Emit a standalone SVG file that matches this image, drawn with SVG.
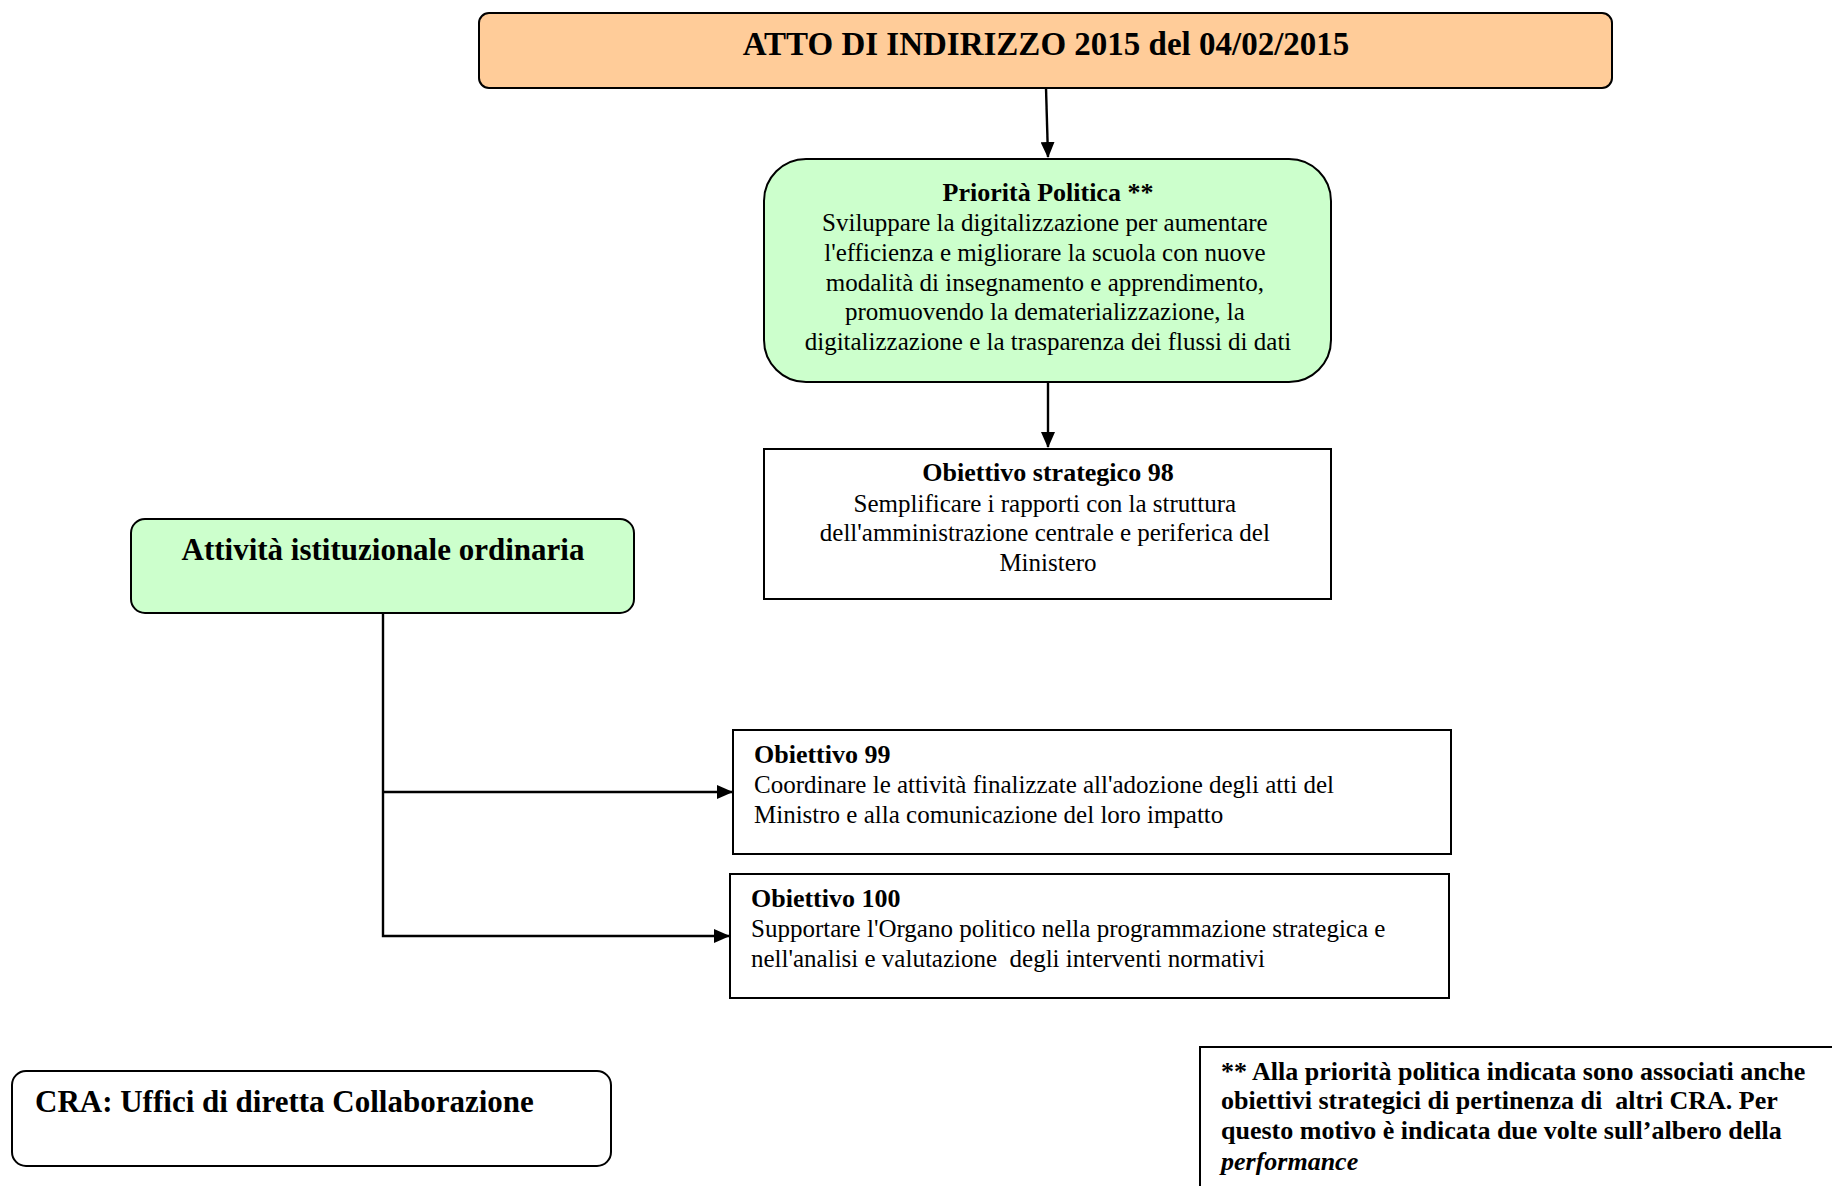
<svg xmlns="http://www.w3.org/2000/svg" width="1832" height="1186" viewBox="0 0 1832 1186">
  <defs>
    <marker id="arrow" markerWidth="16" markerHeight="14" refX="15" refY="7" orient="auto" markerUnits="userSpaceOnUse">
      <path d="M0,0 L16,7 L0,14 z" fill="#000"/>
    </marker>
    <style>
      .box { stroke: #000; stroke-width: 2; }
      .t { font-family: "Liberation Serif", "DejaVu Serif", serif; fill: #000; }
      .b { font-weight: bold; }
      .c { text-anchor: middle; }
      .body { font-size: 25px; }
      .head { font-size: 26px; }
      .conn { fill: none; stroke: #000; stroke-width: 2.4; }
    </style>
  </defs>

  <rect width="1832" height="1186" fill="#fff"/>

  <!-- connectors -->
  <g id="connectors">
    <line class="conn" x1="1046" y1="88" x2="1048" y2="157" marker-end="url(#arrow)"/>
    <line class="conn" x1="1048" y1="382" x2="1048" y2="447" marker-end="url(#arrow)"/>
    <path class="conn" d="M383,613 V936 H729" marker-end="url(#arrow)"/>
    <path class="conn" d="M383,792 H732" marker-end="url(#arrow)"/>
  </g>

  <g id="atto-indirizzo">
    <rect class="box" x="479" y="13" width="1133" height="75" rx="10" fill="#FFCC99"/>
    <text class="t b c" x="1046" y="55" font-size="33">ATTO DI INDIRIZZO 2015 del 04/02/2015</text>
  </g>

  <g id="priorita-politica">
    <rect class="box" x="764" y="159" width="567" height="223" rx="42" fill="#CCFFCC"/>
    <text class="t b c head" x="1048" y="201">Priorità Politica **</text>
    <text class="t c body">
      <tspan x="1048" y="231">Sviluppare la digitalizzazione per aumentare</tspan>
      <tspan x="1048" y="261">l'efficienza e migliorare la scuola con nuove</tspan>
      <tspan x="1048" y="291">modalità di insegnamento e apprendimento,</tspan>
      <tspan x="1048" y="320">promuovendo la dematerializzazione, la</tspan>
      <tspan x="1048" y="350">digitalizzazione e la trasparenza dei flussi di dati</tspan>
    </text>
  </g>

  <g id="obiettivo-strategico-98">
    <rect class="box" x="764" y="449" width="567" height="150" fill="#fff"/>
    <text class="t b c head" x="1048" y="481">Obiettivo strategico 98</text>
    <text class="t c body">
      <tspan x="1048" y="512">Semplificare i rapporti con la struttura</tspan>
      <tspan x="1048" y="541">dell'amministrazione centrale e periferica del</tspan>
      <tspan x="1048" y="571">Ministero</tspan>
    </text>
  </g>

  <g id="attivita-istituzionale">
    <rect class="box" x="131" y="519" width="503" height="94" rx="14" fill="#CCFFCC"/>
    <text class="t b c" x="383" y="560" font-size="31">Attività istituzionale ordinaria</text>
  </g>

  <g id="obiettivo-99">
    <rect class="box" x="733" y="730" width="718" height="124" fill="#fff"/>
    <text class="t b head" x="754" y="763">Obiettivo 99</text>
    <text class="t body">
      <tspan x="754" y="793">Coordinare le attività finalizzate all'adozione degli atti del</tspan>
      <tspan x="754" y="823">Ministro e alla comunicazione del loro impatto</tspan>
    </text>
  </g>

  <g id="obiettivo-100">
    <rect class="box" x="730" y="874" width="719" height="124" fill="#fff"/>
    <text class="t b head" x="751" y="907">Obiettivo 100</text>
    <text class="t body">
      <tspan x="751" y="937">Supportare l'Organo politico nella programmazione strategica e</tspan>
      <tspan x="751" y="967">nell'analisi e valutazione&#160; degli interventi normativi</tspan>
    </text>
  </g>

  <g id="cra">
    <rect class="box" x="12" y="1071" width="599" height="95" rx="14" fill="#fff"/>
    <text class="t b" x="35" y="1112" font-size="31">CRA: Uffici di diretta Collaborazione</text>
  </g>

  <g id="nota">
    <rect class="box" x="1200" y="1047" width="640" height="150" fill="#fff"/>
    <text class="t b" font-size="26">
      <tspan x="1221" y="1080">** Alla priorità politica indicata sono associati anche</tspan>
      <tspan x="1221" y="1109">obiettivi strategici di pertinenza di&#160; altri CRA. Per</tspan>
      <tspan x="1221" y="1139">questo motivo è indicata due volte sull’albero della</tspan>
      <tspan x="1221" y="1170" font-style="italic">performance</tspan>
    </text>
  </g>
</svg>
